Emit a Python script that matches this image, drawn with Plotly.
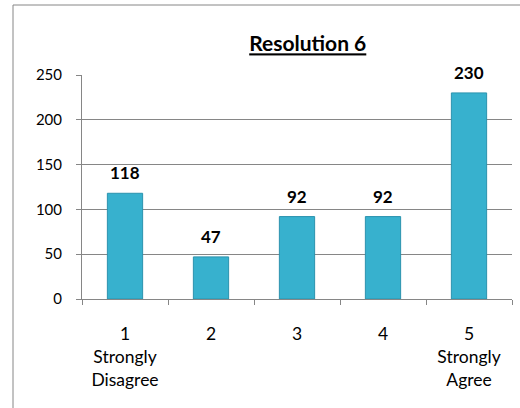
import plotly.graph_objects as go

categories = ["1<br>Strongly<br>Disagree", "2", "3", "4", "5<br>Strongly<br>Agree"]
values = [118, 47, 92, 92, 230]
y_ticks = [0, 50, 100, 150, 200, 250]
title_text = "Resolution 6"

FONT = "Lato, Open Sans, sans-serif"

fig = go.Figure()
fig.add_trace(go.Bar(
    x=categories,
    y=values,
    cliponaxis=False,
    marker=dict(color="#37B1CE", line=dict(color="#2B93AE", width=1)),
    width=0.41,
    hoverinfo="skip",
))

for idx, val in enumerate(values):
    fig.add_annotation(
        x=idx, y=val, xref="x", yref="y",
        text=f"<b>{val}</b>", showarrow=False,
        yanchor="bottom", yshift=8,
        font=dict(family=FONT, size=17, color="#000000"),
    )

fig.update_layout(
    width=520, height=408,
    margin=dict(l=82, r=8, t=75, b=109, autoexpand=False),
    paper_bgcolor="white",
    plot_bgcolor="white",
    showlegend=False,
    font=dict(family=FONT, size=17, color="#000000"),
    title=dict(
        text=f"<b><u>{title_text}</u></b>",
        x=0.525, xref="paper", xanchor="center",
        y=1 - 44 / 408, yref="container", yanchor="middle",
        font=dict(family=FONT, size=21, color="#000000"),
    ),
    xaxis=dict(
        type="category",
        automargin=False,
        showline=True, linecolor="#868686", linewidth=1,
        ticks="outside", tickson="boundaries", ticklen=5, tickcolor="#868686",
        showgrid=False,
        tickfont=dict(family=FONT, size=17.5),
        ticklabelstandoff=19,
    ),
    yaxis=dict(
        range=[0, 250],
        automargin=False,
        tickvals=y_ticks,
        showline=True, linecolor="#868686", linewidth=1,
        ticks="outside", ticklen=5, tickcolor="#868686",
        showgrid=True, gridcolor="#868686", gridwidth=1,
        zeroline=False,
        tickfont=dict(family=FONT, size=15),
        ticklabelstandoff=11,
    ),
    shapes=[dict(
        type="rect", xref="paper", yref="paper",
        x0=(13 - 82) / 430, x1=1.2, y0=-1.0, y1=(299 - 5) / 224,
        line=dict(color="#868686", width=1), fillcolor="rgba(0,0,0,0)",
        layer="below",
    )],
)

fig.write_html(
    "out.html",
    config={"displayModeBar": False},
    post_script="document.body.style.margin='0';document.body.style.overflow='hidden';",
)
